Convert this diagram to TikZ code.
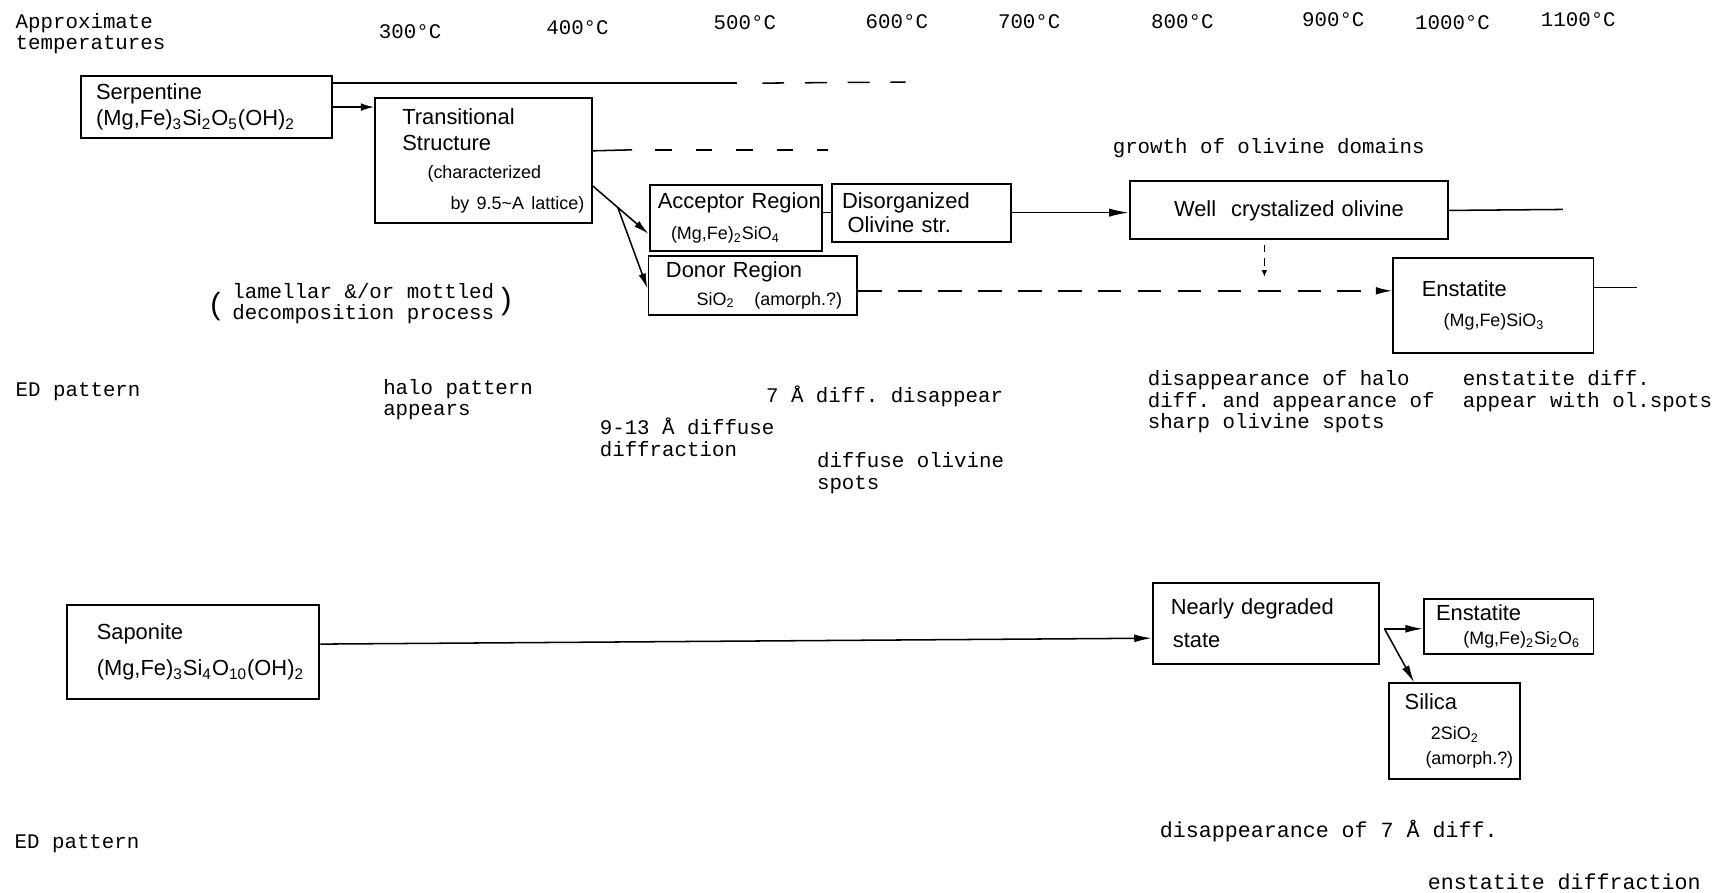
\documentclass[tikz,border=0pt]{standalone}
\usepackage{fontspec}
\setsansfont{Liberation Sans}
\setmonofont{Liberation Mono}
\usetikzlibrary{arrows.meta}

\newcommand{\boxsmall}{\fontsize{8.2}{10}\selectfont}

\begin{document}
\begin{tikzpicture}[x=0.5pt, y=-0.5pt,
    box/.style={draw, line width=0.9pt, rectangle, anchor=north west, inner ysep=0pt,
        align=left, font=\sffamily\fontsize{10}{12}\selectfont},
    mono/.style={anchor=west, align=left, inner sep=0pt, font=\ttfamily\fontsize{9.5}{9.8}\selectfont},
    temp/.style={inner sep=0pt, font=\ttfamily\fontsize{9.5}{10}\selectfont},
    paren/.style={inner sep=0pt, font=\sffamily\fontsize{14}{14}\selectfont},
    conn/.style={line width=0.7pt},
    arr/.style={line width=0.7pt, -{Latex[length=8pt,width=3.6pt]}},
    dashline/.style={line width=0.8pt, dash pattern=on 10.75pt off 7.5pt}]

    % page size
    \useasboundingbox (0,0) rectangle (1568,816.4);

    % temperature scale
    \node[mono] (hdr) at (14,31) {Approximate\\temperatures};
    \node[temp] (t300) at (375,29) {300°C};
    \node[temp] (t400) at (528,25) {400°C};
    \node[temp] (t500) at (681,21) {500°C};
    \node[temp] (t600) at (820,20) {600°C};
    \node[temp] (t700) at (941,20) {700°C};
    \node[temp] (t800) at (1081,20) {800°C};
    \node[temp] (t900) at (1219,18) {900°C};
    \node[temp] (t1000) at (1328,21) {1000°C};
    \node[temp] (t1100) at (1443,18) {1100°C};

    % serpentine sequence
    \node[box, minimum width=115pt, minimum height=28pt, inner xsep=7pt, text width=101pt] (serp) at (73,69)
        {Serpentine\\(Mg,Fe)\textsubscript{3}Si\textsubscript{2}O\textsubscript{5}(OH)\textsubscript{2}};
    \node[box, minimum width=99pt, minimum height=57pt, inner xsep=12.5pt, text width=74pt] (trans) at (342,89)
        {Transitional\\Structure\\[1pt]
         \mbox{\boxsmall\hspace*{11.5pt}(characterized}\\[2pt]
         \mbox{\boxsmall\hspace*{22pt}by 9.5\textasciitilde A lattice)}};
    \node[box, minimum width=79pt, minimum height=30.5pt, inner xsep=3.8pt, text width=71.4pt] (acc) at (593,168)
        {\mbox{Acceptor Region}\\[2.3pt]\mbox{\boxsmall\hspace*{6pt}(Mg,Fe)\textsubscript{2}SiO\textsubscript{4}}};
    \node[box, minimum width=81.5pt, minimum height=26.5pt, inner xsep=4.5pt, text width=72.5pt] (dis) at (760,167)
        {Disorganized\\[-0.7pt]\mbox{\hspace*{2.5pt}Olivine str.}};
    \node[box, minimum width=95.5pt, minimum height=27pt, inner xsep=8pt, text width=79.5pt] (don) at (592,233)
        {Donor Region\\[0.5pt]\mbox{\boxsmall\hspace*{14pt}SiO\textsubscript{2}\hspace{1.1em}(amorph.?)}};
    \node[box, minimum width=145.5pt, minimum height=26.5pt, inner xsep=3pt, text width=139.5pt, align=center] (well) at (1032,165)
        {Well\hspace{0.35em} crystalized olivine};
    \node[box, minimum width=91.5pt, minimum height=43.5pt, inner xsep=13pt, text width=65.5pt] (ens) at (1273,235)
        {Enstatite\\[1.7pt]\mbox{\boxsmall\hspace*{10pt}(Mg,Fe)SiO\textsubscript{3}}};

    % connectors, serpentine
    \coordinate (serpmid) at (674,76);
    \coordinate (serpdash) at (697,76);
    \coordinate (serpend) at (828,75);
    \draw[conn] (serp.north east) ++(0,7) -- (serpmid);
    \draw[conn, dash pattern=on 10pt off 9.5pt] (serpdash) -- (serpend);
    \draw[arr, -{Latex[length=6pt,width=3.5pt]}] (serp.east) -- (serp.east -| trans.west);

    \coordinate (transmid) at (578,137);
    \coordinate (transdash) at (599,137);
    \coordinate (transend) at (757,137);
    \draw[conn] (trans.east) ++(0,-9) -- (transmid);
    \draw[conn, dash pattern=on 7.5pt off 11pt] (transdash) -- (transend);

    \draw[arr, -{Latex[length=7pt,width=3.4pt]}] (trans.east) ++(0,23) -- coordinate[pos=0.45] (split) ([yshift=-7.25pt]acc.west);
    \draw[arr, -{Latex[length=7pt,width=3.4pt]}] (split) -- ([yshift=-1.5pt]don.west);
    \draw[conn] ([yshift=2.5pt]acc.east) -- (dis.west);
    \draw[arr, -{Latex[length=9pt,width=3.8pt]}] (dis.east) -- (dis.east -| well.west);

    \coordinate (wellend) at (1429,191.5);
    \draw[conn] (well.east) -- (wellend);
    \coordinate (welldown) at (1156,253);
    \draw[line width=0.4pt, dash pattern=on 3.5pt off 2.5pt, -{Latex[length=3pt,width=2.5pt]}]
        (well.south -| welldown) ++(0,4) -- (welldown);

    \draw[dashline, -{Latex[length=7.5pt,width=3.5pt]}] (don.east) ++(0,5) coordinate (donout) -- (donout -| ens.west);
    \coordinate (ensend) at (1497,263);
    \draw[conn] (ens.east |- ensend) -- (ensend);

    % growth and decomposition notes
    \node[mono] (growth) at (1017,135) {growth of olivine domains};
    \node[paren] (lamL) at (197,280) {(};
    \node[mono] (lam) at (212,277.5) {lamellar \&/or mottled\\decomposition process};
    \node[paren] (lamR) at (463,276) {)};

    % ED pattern, serpentine
    \node[mono] (ed1) at (14,358) {ED pattern};
    \node[mono] (halo) at (350,365.5) {halo pattern\\appears};
    \node[mono] (sevenA) at (700,362) {7 Å diff. disappear};
    \node[mono] (nineA) at (548,400) {9-13 Å diffuse\\diffraction};
    \node[mono] (dolsp) at (746.6,432.5) {diffuse olivine\\spots};
    \node[mono] (dishalo) at (1049,367.5) {disappearance of halo\\diff. and appearance of\\sharp olivine spots};
    \node[mono] (ensdiff) at (1337,357.5) {enstatite diff.\\appear with ol.spots};

    % saponite sequence
    \node[box, minimum width=115.5pt, minimum height=43pt, inner xsep=13.8pt, text width=87.9pt] (sap) at (60,552)
        {Saponite\\[4.8pt](Mg,Fe)\textsubscript{3}Si\textsubscript{4}O\textsubscript{10}(OH)\textsubscript{2}};
    \node[box, minimum width=103.5pt, minimum height=37pt, inner xsep=8.25pt, text width=87pt] (nds) at (1053,532)
        {Nearly degraded\\[3.2pt]\hspace*{1pt}state};
    \node[box, minimum width=77.5pt, minimum height=25pt, inner xsep=5.5pt, text width=66.5pt] (ens2) at (1301,547)
        {Enstatite\\[-1pt]\mbox{\boxsmall\hspace*{12.5pt}(Mg,Fe)\textsubscript{2}Si\textsubscript{2}O\textsubscript{6}}};
    \node[box, minimum width=60pt, minimum height=43.5pt, inner xsep=7.2pt, text width=45.6pt] (silica) at (1269,624)
        {Silica\\[1.8pt]\mbox{\boxsmall\hspace*{12pt}2SiO\textsubscript{2}}\\[-0.6pt]\mbox{\boxsmall\hspace*{9.5pt}(amorph.?)}};

    % connectors, saponite
    \draw[arr] ([yshift=3.5pt]sap.east) -- ([yshift=-6.8pt]nds.west);
    \coordinate (ndsfork) at ([xshift=2pt,yshift=-2.5pt]nds.east);
    \draw[arr] (ndsfork) -- (ndsfork -| ens2.west);
    \draw[arr] (ndsfork) -- ([xshift=-18.5pt]silica.north);

    % ED pattern, saponite
    \node[mono] (ed2) at (13,771) {ED pattern};
    \node[mono, font=\ttfamily\fontsize{9.9}{9.8}\selectfont] (dis7) at (1060,760) {disappearance of 7 Å diff.};
    \node[mono, font=\ttfamily\fontsize{9.9}{9.8}\selectfont] (ensdf) at (1305,806) {enstatite diffraction};

\end{tikzpicture}
\end{document}
